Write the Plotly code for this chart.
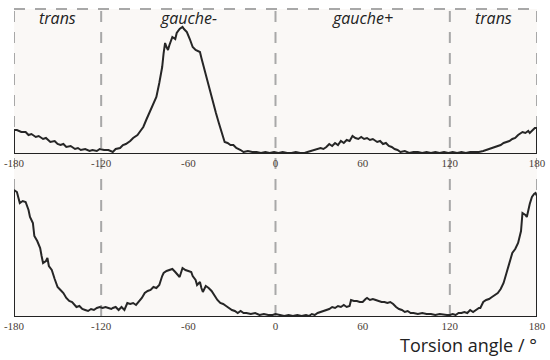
import plotly.graph_objects as go

# torsion-angle distributions (arbitrary units)
top_angle = [-180, -180, -178, -175, -172, -170, -168, -165, -163, -160, -158, -155, -152, -150, -148, -146, -144, -141,
             -138, -136, -134, -131, -128, -126, -123, -121, -118, -115, -112, -110, -107, -105, -103, -100, -98, -95,
             -93, -91, -89, -87, -86, -84, -82, -80, -78, -77, -76, -75, -74, -73, -71, -69, -68, -66, -64, -63, -61,
             -59, -57, -55, -52, -51, -49, -47, -45, -43, -41, -39, -37, -35, -33, -31, -29, -27, -24, -22, -19, -16,
             -13, -10, -7, -4, -1, 2, 5, 8, 11, 14, 17, 20, 22, 24, 26, 29, 31, 33, 35, 37, 39, 41, 43, 45, 47, 49, 51,
             53, 55, 57, 59, 61, 63, 65, 67, 70, 72, 74, 76, 78, 80, 82, 84, 86, 89, 92, 95, 98, 101, 104, 107, 110,
             113, 116, 119, 122, 125, 128, 131, 134, 137, 140, 143, 145, 148, 150, 153, 155, 157, 159, 161, 163, 165,
             167, 169, 170, 172, 174, 175, 177, 178.5, 180, 180]
top_count = [0, 23, 23, 21, 21, 18, 19, 16, 17, 14, 15, 11, 12, 9, 8, 9, 6, 7,
             4, 5, 3, 4, 2, 3, 2, 4, 3, 3, 1, 4, 5, 8, 9, 12, 15, 18,
             22, 26, 33, 40, 43, 50, 56, 70, 86, 100, 110, 106, 103, 108, 116, 114, 120, 124, 126, 124, 121,
             114, 106, 103, 101, 95, 85, 73, 62, 50, 40, 30, 20, 11, 10, 8, 8, 5, 3, 1, 2, 1,
             1, 0, 1, 0, 1, 0, 1, 0, 0, 1, 0, 0, 1, 2, 3, 4, 5, 4, 6, 9, 7, 10, 8, 12, 10, 13, 12,
             17, 15, 14, 16, 14, 15, 13, 14, 11, 12, 9, 10, 7, 6, 4, 3, 1, 2, 0, 1, 1, 0, 1, 0, 1,
             0, 1, 0, 1, 0, 1, 0, 1, 1, 1, 2, 3, 4, 5, 7, 8, 10, 11, 12, 14, 15,
             18, 20, 21, 20, 22, 20, 23, 25, 25, 0]

bot_angle = [-180, -180, -178, -177, -176, -174, -172, -170, -169, -167, -166, -164, -162, -161, -160, -158, -157, -156,
             -154, -152, -150, -148, -146, -144, -142, -140, -139, -137, -135, -133, -131, -129, -127, -125, -123, -121,
             -119, -117, -115, -113, -112, -110, -108, -106, -104, -102, -100, -98, -96, -94, -92, -90, -88, -86, -84,
             -82, -80, -78, -77, -75, -73, -71, -69, -67, -66, -64, -62, -60, -58, -57, -55, -54, -52, -51, -50, -48,
             -46, -44, -42, -40, -38, -36, -34, -32, -30, -28, -26, -24, -22, -20, -17, -14, -11, -8, -5, -2, 0, 3, 6,
             9, 12, 15, 18, 21, 23, 25, 27, 29, 31, 33, 35, 37, 39, 41, 43, 45, 47, 49, 51, 52, 54, 56, 58, 60, 62, 63,
             65, 67, 69, 71, 73, 75, 77, 79, 81, 83, 85, 87, 89, 91, 93, 95, 98, 101, 104, 107, 110, 113, 116, 118, 120,
             122, 124, 126, 128, 130, 132, 134, 136, 138, 140, 141, 143, 145, 147, 149, 151, 153, 155, 157, 159, 161,
             163, 165, 167, 169, 170, 172, 173, 175, 176.5, 178, 179, 180, 180]
bot_count = [0, 126, 124, 118, 113, 115, 114, 106, 99, 93, 80, 75, 68, 60, 53, 55, 58, 50,
             46, 37, 29, 26, 23, 18, 15, 14, 12, 9, 10, 7, 6, 5, 7, 6, 8, 9,
             8, 9, 8, 7, 8, 9, 6, 9, 6, 13, 12, 13, 11, 14, 18, 23, 25, 26, 29,
             28, 31, 40, 43, 45, 46, 47, 44, 40, 39, 48, 46, 45, 44, 40, 36, 31, 34, 28, 24, 30,
             28, 25, 20, 16, 13, 12, 10, 8, 6, 5, 3, 5, 3, 3, 2, 3, 1, 2, 1, 1, 2, 1, 0,
             1, 0, 1, 0, 1, 0, 2, 1, 3, 4, 5, 6, 7, 9, 8, 10, 9, 11, 9, 10, 16, 15, 15, 14, 14, 17, 18,
             16, 17, 16, 15, 14, 14, 13, 14, 12, 9, 7, 6, 4, 5, 3, 3, 2, 3, 2, 2, 1, 2, 1, 1, 1,
             2, 1, 3, 3, 4, 3, 6, 4, 6, 8, 8, 14, 16, 17, 19, 21, 23, 27, 33, 43, 52,
             63, 67, 73, 85, 103, 101, 99, 112, 119, 122, 123, 120, 0]

ticks = [-180, -120, -60, 0, 60, 120, 180]
region_names = ["trans", "gauche-", "gauche+", "trans"]
region_centers = [-150, -60, 60, 150]
boundaries = [-180, -120, 0, 120, 180]

# positions below are page pixels; the body margin is removed in the page
W, H = 550, 360
X0, X1 = 14, 537          # columns of -180 / 180
TOP = (9, 153)            # top panel: border row, baseline row
BOT = (170, 316)          # bottom panel


def px(col):
    return col / W


def py(row):
    return (H - row) / H


fig = go.Figure()
fig.add_trace(go.Scatter(x=top_angle, y=top_count, mode="lines", line=dict(color="#262626", width=2),
                         xaxis="x", yaxis="y", hoverinfo="skip"))
fig.add_trace(go.Scatter(x=bot_angle, y=bot_count, mode="lines", line=dict(color="#262626", width=2),
                         xaxis="x2", yaxis="y2", hoverinfo="skip"))

xdom = [px(X0), px(X1)]
axis_x = dict(range=[-180, 180], domain=xdom, tickvals=ticks, ticktext=[str(t) for t in ticks],
              showgrid=False, zeroline=False, showline=True, linecolor="#222", linewidth=1,
              ticks="", automargin=False, ticklabeloverflow="allow",
              tickfont=dict(family="Liberation Serif", size=11, color="#4a4038"), fixedrange=True)
fig.update_layout(
    xaxis=dict(axis_x, anchor="y"),
    xaxis2=dict(axis_x, anchor="y2"),
    yaxis=dict(range=[0, TOP[1] - TOP[0]], domain=[py(TOP[1]), py(TOP[0])], visible=False),
    yaxis2=dict(range=[0, BOT[1] - BOT[0]], domain=[py(BOT[1]), py(BOT[0])], visible=False),
    width=W, height=H, margin=dict(l=0, r=0, t=0, b=0),
    paper_bgcolor="white", plot_bgcolor="rgba(0,0,0,0)", showlegend=False,
)

# warm off-white panel background behind both plots
fig.add_shape(type="rect", xref="paper", yref="paper", x0=xdom[0], x1=xdom[1], y0=py(BOT[1]), y1=py(TOP[0]),
              fillcolor="#faf8f6", line=dict(width=0), layer="below")

dash = dict(color="#a8a8a8", width=2, dash="11px,10px")
fig.add_shape(type="line", xref="paper", yref="paper", x0=xdom[0], x1=xdom[1], y0=py(TOP[0]), y1=py(TOP[0]),
              line=dash, layer="below")
for b in boundaries:
    fig.add_shape(type="line", xref="x", yref="paper", x0=b, x1=b, y0=py(BOT[1]), y1=py(TOP[0]),
                  line=dash, layer="below")

for name, c in zip(region_names, region_centers):
    fig.add_annotation(x=c, xref="x", y=py(18), yref="paper", yanchor="middle", text=f"<i>{name}</i>",
                       showarrow=False, font=dict(family="Open Sans", size=16, color="#222"))

fig.add_annotation(x=px(468), xref="paper", y=py(345), yref="paper", yanchor="middle", xanchor="center",
                   text="Torsion angle / °", showarrow=False,
                   font=dict(family="Open Sans", size=18, color="#222"))

fig.write_html("out.html", config={"displayModeBar": False},
               post_script="document.body.style.margin = '0px';")
